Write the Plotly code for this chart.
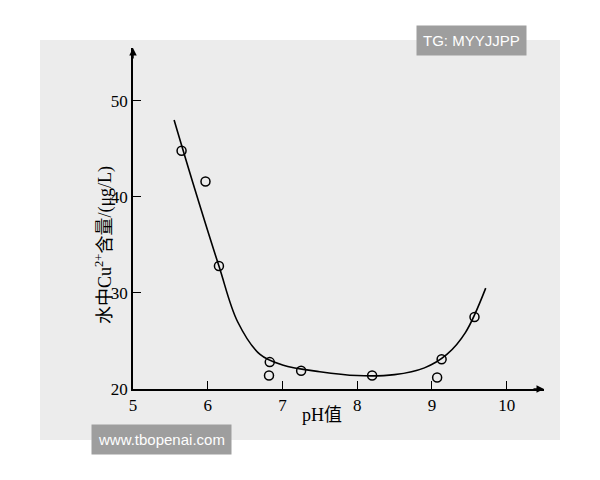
import plotly.graph_objects as go

pts_x = [5.65, 5.97, 6.15, 6.82, 6.83, 7.25, 8.2, 9.07, 9.13, 9.57]
pts_y = [44.8, 41.6, 32.8, 21.4, 22.8, 21.9, 21.4, 21.2, 23.1, 27.5]
curve_x = [5.55, 5.8, 6.15, 6.4, 6.7, 7.0, 7.5, 8.0, 8.5, 8.9, 9.2, 9.45, 9.72]
curve_y = [48.0, 41.5, 32.8, 27.0, 23.6, 22.5, 21.8, 21.4, 21.5, 22.2, 23.6, 25.9, 30.5]
xticks = [5, 6, 7, 8, 9, 10]
yticks = [20, 30, 40, 50]

font = dict(family="Liberation Serif", size=17, color="black")
cjk = dict(family="Liberation Serif, Noto Sans CJK SC", size=18, color="black")
W, H = 411, 341
fig = go.Figure()
fig.add_trace(go.Scatter(x=curve_x, y=curve_y, mode="lines", line=dict(color="black", width=1.6, shape="spline", smoothing=1.0), hoverinfo="skip"))
fig.add_trace(go.Scatter(x=pts_x, y=pts_y, mode="markers", marker=dict(symbol="circle-open", size=9, color="black", line=dict(width=1.5))))
fig.update_layout(
    width=600, height=480, showlegend=False,
    paper_bgcolor="white", plot_bgcolor="rgba(0,0,0,0)",
    margin=dict(l=125, r=64, t=40, b=99),
    font=font,
    shapes=[dict(type="rect", xref="paper", yref="paper", x0=-93/W, x1=(560-133)/W, y0=-(440-389)/H, y1=(389-40)/H,
                 fillcolor="#ececec", line=dict(width=0), layer="below")],
    xaxis=dict(range=[5, 10.5], tickvals=xticks, ticks="inside", ticklen=8, tickcolor="black",
               showline=True, linecolor="black", linewidth=1.5, showgrid=False, zeroline=False, tickfont=font),
    yaxis=dict(range=[20, 55.5], tickvals=yticks, ticks="inside", ticklen=8, tickcolor="black",
               showline=True, linecolor="black", linewidth=1.5, showgrid=False, zeroline=False, tickfont=font),
    annotations=[
        dict(x=1.0, y=0, xref="paper", yref="paper", ax=-12, ay=0, showarrow=True, arrowhead=2, arrowsize=1, arrowwidth=1.5, arrowcolor="black", text=""),
        dict(x=0, y=1.0, xref="paper", yref="paper", ax=0, ay=12, showarrow=True, arrowhead=2, arrowsize=1, arrowwidth=1.5, arrowcolor="black", text=""),
        dict(x=(322-133)/W, y=-(427-389)/H, xref="paper", yref="paper", text="pH值", showarrow=False, font=cjk),
        dict(x=(90-133)/W, y=(389-245)/H, xref="paper", yref="paper", text="水中Cu<sup>2+</sup>含量/(μg/L)", textangle=-90, showarrow=False, font=cjk),
        dict(x=(527-133)/W, y=(389-25)/H, xref="paper", yref="paper", text="TG: MYYJJPP", showarrow=False, bgcolor="#9e9e9e", font=dict(family="Liberation Sans", size=15, color="white"), borderpad=6),
        dict(x=(91-133)/W, y=-(455-389)/H, xref="paper", yref="paper", text="www.tbopenai.com", showarrow=False, bgcolor="#9e9e9e", font=dict(family="Liberation Sans", size=15, color="white"), borderpad=6),
    ],
)
fig.write_html("out.html")
